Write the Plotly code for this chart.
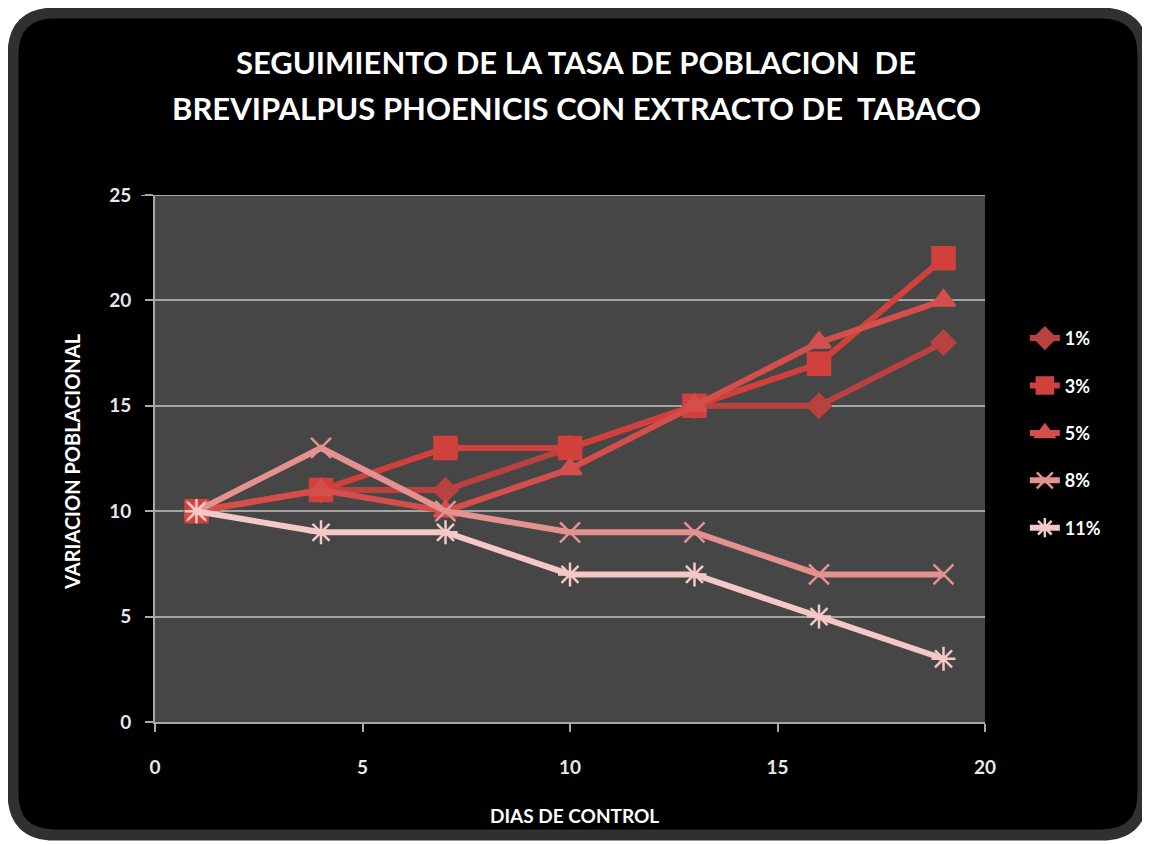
import plotly.graph_objects as go

# days of control
dias = [1, 4, 7, 10, 13, 16, 19]
series_names = ['1%', '3%', '5%', '8%', '11%']
v_1 = [10, 11, 11, 13, 15, 15, 18]
v_3 = [10, 11, 13, 13, 15, 17, 22]
v_5 = [10, 11, 10, 12, 15, 18, 20]
v_8 = [10, 13, 10, 9, 9, 7, 7]
v_11 = [10, 9, 9, 7, 7, 5, 3]
x_ticks = [0, 5, 10, 15, 20]
y_ticks = [0, 5, 10, 15, 20, 25]

# page body adds an 8px offset, so the figure is sized to fit the window
W, H = 1142, 837
ML, MR, MT, MB = 147, 165, 187, 123
PW, PH = W - ML - MR, H - MT - MB

def px(x):
  return (x - ML) / PW

def py(y):
  return (H - MB - y) / PH

def rounded_rect(x0, y0, x1, y1, r):
  return ('M {},{} L {},{} Q {},{} {},{} L {},{} Q {},{} {},{} L {},{} Q {},{} {},{} L {},{} Q {},{} {},{} Z'.format(
    px(x0 + r), py(y0), px(x1 - r), py(y0),
    px(x1), py(y0), px(x1), py(y0 + r),
    px(x1), py(y1 - r),
    px(x1), py(y1), px(x1 - r), py(y1),
    px(x0 + r), py(y1),
    px(x0), py(y1), px(x0), py(y1 - r),
    px(x0), py(y0 + r),
    px(x0), py(y0), px(x0 + r), py(y0)))

colors = ['#b9413f', '#d2403c', '#d44f4b', '#e3928f', '#f3c8c6']
symbols = ['diamond', 'square', 'triangle-up', 'x-thin-open', 'asterisk-open']
sizes = [18, 22, 20, 20, 20]
values = [v_1, v_3, v_5, v_8, v_11]

fig = go.Figure()
for name, vals, color_use, sym, sz in zip(series_names, values, colors, symbols, sizes):
  fig.add_trace(go.Scatter(x = dias, y = vals, mode = 'lines+markers', name = name, legendgroup = name,
                  line = dict(color = color_use, width = 6),
                  marker = dict(symbol = sym, size = sz, color = color_use,
                                line = dict(color = color_use, width = 2.5))))

# dark frame and plot area
fig.add_shape(type = 'path', xref = 'paper', yref = 'paper', layer = 'below',
              path = rounded_rect(5, 5, 1135, 827, 42),
              fillcolor = '#000000', line = dict(color = '#303030', width = 11))
fig.add_shape(type = 'rect', xref = 'paper', yref = 'paper', layer = 'below',
              x0 = 0, x1 = 1, y0 = 0, y1 = 1, fillcolor = '#464646', line = dict(width = 0))
fig.add_shape(type = 'line', xref = 'paper', yref = 'y', layer = 'below',
              x0 = px(ML - 14), x1 = 1, y0 = 25, y1 = 25, line = dict(color = '#a4a4a4', width = 2))

title_font = dict(family = 'Lato', size = 31, color = 'white')
fig.add_annotation(text = '<b>SEGUIMIENTO DE LA TASA DE POBLACION  DE</b>', xref = 'paper', yref = 'paper',
                   x = px(568), y = py(54), xanchor = 'center', yanchor = 'middle', showarrow = False, font = title_font)
fig.add_annotation(text = '<b>BREVIPALPUS PHOENICIS CON EXTRACTO DE  TABACO</b>', xref = 'paper', yref = 'paper',
                   x = px(568), y = py(100), xanchor = 'center', yanchor = 'middle', showarrow = False, font = title_font)
fig.add_annotation(text = '<b>VARIACION POBLACIONAL</b>', xref = 'paper', yref = 'paper', textangle = -90,
                   x = px(64), y = py(454), xanchor = 'center', yanchor = 'middle', showarrow = False,
                   font = dict(family = 'Lato', size = 20, color = 'white'))
fig.add_annotation(text = '<b>DIAS DE CONTROL</b>', xref = 'paper', yref = 'paper',
                   x = px(566), y = py(807), xanchor = 'center', yanchor = 'middle', showarrow = False,
                   font = dict(family = 'Lato', size = 19, color = 'white'))

fig.update_xaxes(range = [0, 20], tickvals = x_ticks, showgrid = False, showline = True,
           linecolor = '#a8a8a8', linewidth = 2, ticks = 'outside', ticklen = 8, tickcolor = '#a8a8a8',
           tickwidth = 2, zeroline = False, ticklabelstandoff = 19,
           tickfont = dict(family = 'Lato', size = 19, color = '#e8e8e8', weight = 'bold'))
fig.update_yaxes(range = [0, 25], tickvals = y_ticks, showgrid = True, gridcolor = '#a4a4a4', gridwidth = 2,
           showline = True, linecolor = '#a8a8a8', linewidth = 2, ticks = 'outside', ticklen = 8,
           tickcolor = '#a8a8a8', tickwidth = 2, zeroline = False, ticklabelstandoff = 10,
           tickfont = dict(family = 'Lato', size = 19, color = '#e8e8e8', weight = 'bold'))

fig.update_layout(width = W, height = H, margin = dict(l = ML, r = MR, t = MT, b = MB),
           paper_bgcolor = 'white', plot_bgcolor = '#464646',
           legend = dict(x = 1.048, xanchor = 'left', y = 0.763, yanchor = 'top', tracegroupgap = 21,
                         font = dict(family = 'Lato', size = 18, color = 'white', weight = 'bold'),
                         bgcolor = 'rgba(0,0,0,0)'),
           showlegend = True)

fig.write_html("out.html")
